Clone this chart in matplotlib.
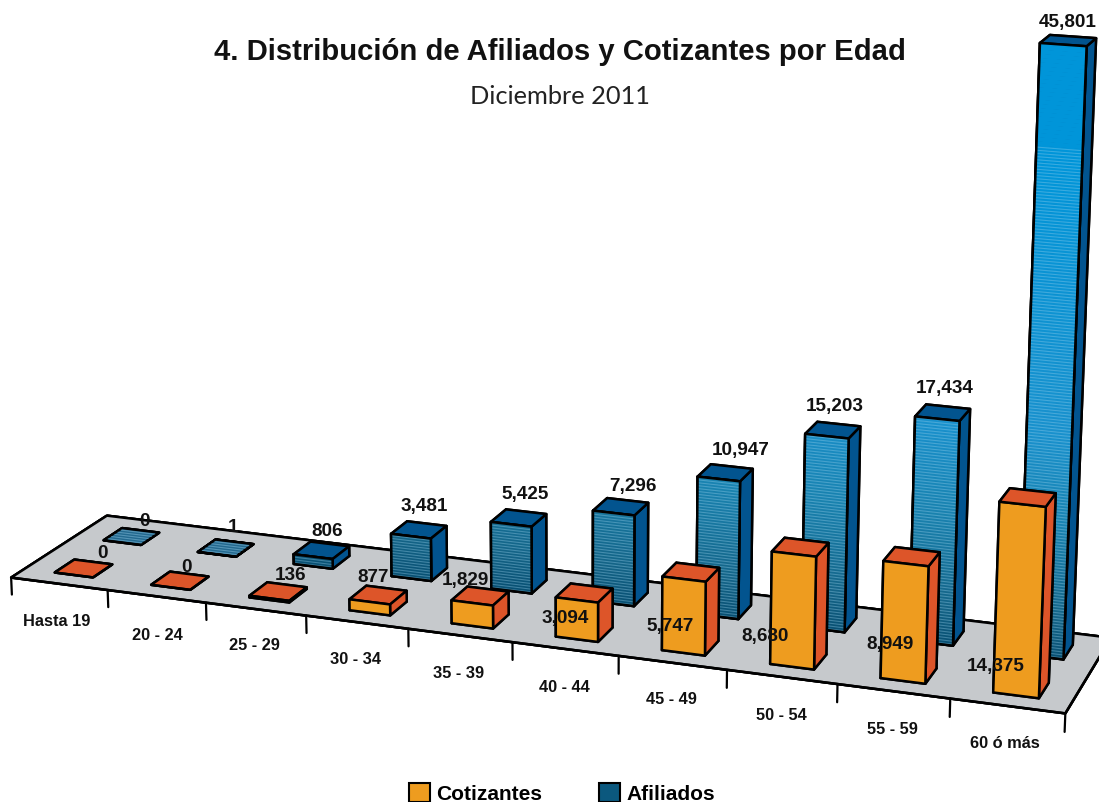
import numpy as np
import matplotlib
matplotlib.use('Agg')
import matplotlib.pyplot as plt
from matplotlib.patches import Patch
from mpl_toolkits.mplot3d.art3d import Poly3DCollection, Line3DCollection

plt.rcParams['font.family'] = ['Liberation Sans', 'DejaVu Sans']

categories = ['Hasta 19', '20 - 24', '25 - 29', '30 - 34', '35 - 39',
              '40 - 44', '45 - 49', '50 - 54', '55 - 59', '60 ó más']
cotizantes = [0, 0, 136, 877, 1829, 3094, 5747, 8680, 8949, 14375]
afiliados = [0, 1, 806, 3481, 5425, 7296, 10947, 15203, 17434, 45801]

# pixel places of the labels, they sit wherever the original put them
cat_pos = [(57, 621), (157, 636), (254, 646), (356, 660), (459, 673),
           (564, 687), (671, 700), (781, 715), (892, 729), (1005, 744)]
cot_pos = [(102, 554), (187, 567), (291, 576), (373, 578), (465, 581),
           (565, 618), (670, 626), (765, 636), (890, 644), (996, 666)]
afi_pos = [(144, 521), (233, 527), (327, 531), (424, 506), (525, 494),
           (633, 487), (741, 450), (835, 406), (945, 388), (1068, 23)]

ORANGE = '#ee9c1f'
RED = '#dd5529'
BLUE = '#02548f'
FLOOR = '#c6c9cc'
TEAL = '#23698f'
INK = '#111111'

# camera of the original drawing: data (x, y, z) -> image pixels
cam = np.array([[95.492098, 101.56356, -5.439319e-4, 11.13928],
                [6.933116, -34.063302, -1.268883e-2, 577.580393],
                [-0.00931798, 0.0540625, -9.399781e-7, 1.0]])
M = np.vstack([cam[:2], cam[2] - [0, 0, 0, 1], cam[2]])

W, H = 1099, 802
fig = plt.figure(figsize=(W / 100, H / 100), dpi=100)
# Axes3D always stays square, so let it stick out above and below the figure
ax = fig.add_axes([0, (H - W) / 2 / H, 1, W / H], projection='3d', computed_zorder=False)
ax.set_axis_off()
ax.set_xlim(0, 10)
ax.set_ylim(0, 1)
ax.set_zlim(0, 46000)
ax.get_proj = lambda: M
ax.viewLim.intervalx = (0, W)
ax.viewLim.intervaly = (H + (W - H) / 2, -(W - H) / 2)


def add_lines(segs, zorder, color='black', lw=1.8, alpha=None):
    ax.add_collection3d(Line3DCollection(segs, colors=color, linewidths=lw, alpha=alpha,
                                         capstyle='round', zorder=zorder))


# floor and ticks
ax.bar3d(0, 0, 0, 10, 1, 0, color=FLOOR, edgecolor='black', linewidth=1.8, shade=False, zorder=1)
add_lines([[(i, 0, 0), (i, 0, -1400)] for i in range(11)], 2, lw=1.6)

BAR_W = 0.40
BAR_X = 0.313
ORANGE_Y, BLUE_Y, BAR_D = 0.137, 0.648, 0.202
STRIPE_STEP = 230.0
STRIPE = '#9fd4ee'
SOLID_FROM = 38500


def front_color(z):
    zs = [0, 3000, 10000, 17000, 37000]
    rgb = [(8, 80, 115), (20, 100, 135), (25, 130, 175), (25, 145, 205), (0, 149, 217)]
    return [np.interp(z, zs, [c[k] for c in rgb]) / 255 for k in range(3)]


def striped_front(x, y, value, zorder):
    verts, cols = [], []
    for z0 in np.arange(0, value, 300.0):
        z1 = min(z0 + 340.0, value)
        verts.append([(x, y, z0), (x + BAR_W, y, z0), (x + BAR_W, y, z1), (x, y, z1)])
        cols.append(front_color(z0))
    ax.add_collection3d(Poly3DCollection(verts, facecolors=cols, edgecolors='none', zorder=zorder))
    stripes = [[(x, y, z), (x + BAR_W, y, z)]
               for z in np.arange(STRIPE_STEP / 2, min(value, SOLID_FROM), STRIPE_STEP)]
    if stripes:
        add_lines(stripes, zorder + 0.01, color=STRIPE, lw=0.8, alpha=0.35)
    add_lines([[(x, y, 0), (x + BAR_W, y, 0)], [(x + BAR_W, y, 0), (x + BAR_W, y, value)],
               [(x + BAR_W, y, value), (x, y, value)], [(x, y, value), (x, y, 0)]],
              zorder + 0.02)


for i, val in enumerate(afiliados):
    top = TEAL if val < 10 else BLUE
    # faces in bar3d order: bottom, top, front, back, left, right
    cols = [top, top, BLUE, BLUE, BLUE, BLUE]
    ax.bar3d(i + BAR_X, BLUE_Y, 0, BAR_W, BAR_D, val, color=cols, edgecolor='black',
             linewidth=1.8, shade=False, zorder=3 + i * 0.2)
    if val >= 10:
        striped_front(i + BAR_X, BLUE_Y, val, 3.05 + i * 0.2)
    else:
        # the flat ones show the striped fill on their lid
        add_lines([[(i + BAR_X + 0.02, y, val), (i + BAR_X + BAR_W - 0.02, y, val)]
                   for y in np.linspace(BLUE_Y + 0.03, BLUE_Y + BAR_D - 0.03, 5)],
                  3.1 + i * 0.2, color=STRIPE, lw=0.8, alpha=0.4)

for i, val in enumerate(cotizantes):
    cols = [RED, RED, ORANGE, ORANGE, RED, RED]
    ax.bar3d(i + BAR_X, ORANGE_Y, 0, BAR_W, BAR_D, val, color=cols, edgecolor='black',
             linewidth=1.8, shade=False, zorder=6 + i * 0.2)


def px_text(px, s, **kw):
    fig.text(px[0] / W, 1 - px[1] / H, s, ha='center', va='center', **kw)


for pos, name in zip(cat_pos, categories):
    px_text(pos, name, fontsize=11.8, fontweight='bold', color=INK)
for pos, val in zip(cot_pos, cotizantes):
    px_text(pos, f'{val:,}', fontsize=13.6, fontweight='bold', color=INK)
for pos, val in zip(afi_pos, afiliados):
    px_text(pos, f'{val:,}', fontsize=13.6, fontweight='bold', color=INK)

px_text((560, 52), '4. Distribución de Afiliados y Cotizantes por Edad',
        fontsize=21.1, fontweight='bold', color=INK)
px_text((560, 96), 'Diciembre 2011', fontsize=18.3, color='#222222', family=['Lato', 'DejaVu Sans'])

handles = [Patch(facecolor=ORANGE, edgecolor='black', linewidth=1.5),
           Patch(facecolor='#0b587e', edgecolor='black', linewidth=1.5)]
fig.legend(handles, ['Cotizantes', 'Afiliados'], ncols=2, frameon=False, loc='center',
           bbox_to_anchor=(562 / W, 1 - 793.5 / H), handlelength=1, handleheight=1,
           handletextpad=0.3, columnspacing=2.75, prop={'weight': 'bold', 'size': 15})

fig.savefig('out.png', dpi=100)
